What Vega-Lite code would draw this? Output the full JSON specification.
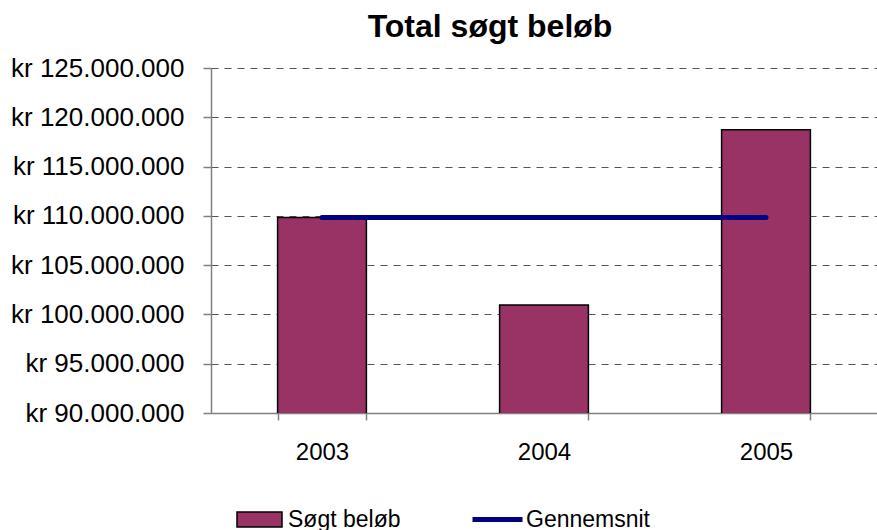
{
  "$schema": "https://vega.github.io/schema/vega-lite/v6.json",
  "autosize": "none",
  "width": 666,
  "height": 345,
  "padding": {"left": 211, "top": 68, "right": 0, "bottom": 117},
  "background": "white",
  "title": {
    "text": "Total søgt beløb",
    "font": "Liberation Sans",
    "fontSize": 32,
    "fontWeight": "bold",
    "color": "black",
    "anchor": "middle",
    "dx": -54,
    "offset": 11
  },
  "data": {
    "values": [
      {"year": "2003", "amount": 109830000, "avg": 109840000},
      {"year": "2004", "amount": 100960000, "avg": 109840000},
      {"year": "2005", "amount": 118730000, "avg": 109840000}
    ]
  },
  "encoding": {
    "x": {
      "field": "year",
      "type": "ordinal",
      "scale": {"paddingInner": 0.6, "paddingOuter": 0.3},
      "axis": {
        "title": null,
        "labelAngle": 0,
        "tickBand": "extent",
        "labelFont": "Liberation Sans",
        "labelFontSize": 24,
        "labelColor": "black",
        "labelPadding": 20,
        "tickSize": 7,
        "tickColor": "#808080",
        "domainColor": "#808080",
        "domainWidth": 1.5,
        "tickWidth": 1.5,
        "grid": false
      }
    }
  },
  "layer": [
    {
      "mark": {"type": "bar", "stroke": "black", "strokeWidth": 1.5, "clip": true},
      "encoding": {
        "y": {
          "field": "amount",
          "type": "quantitative",
          "scale": {"domain": [90000000, 125000000], "zero": false, "nice": false},
          "axis": {
            "title": null,
            "values": [90000000, 95000000, 100000000, 105000000, 110000000, 115000000, 120000000, 125000000],
            "format": "$,.0f",
            "labelFont": "Liberation Sans",
            "labelFontSize": 26,
            "labelColor": "black",
            "labelPadding": 19,
            "tickSize": 8,
            "tickColor": "#808080",
            "tickWidth": 1.5,
            "domainColor": "#808080",
            "domainWidth": 1.5,
            "grid": true,
            "gridColor": "#555555",
            "gridDash": [7, 6],
            "gridWidth": 1.2
          }
        },
        "fill": {
          "datum": "Søgt beløb",
          "type": "nominal",
          "scale": {"range": ["#993366"]},
          "legend": {
            "title": null,
            "orient": "none",
            "legendX": 25,
            "legendY": 428,
            "padding": 0,
            "symbolType": "M-1,-0.33H1V0.33H-1Z",
            "symbolSize": 2025,
            "symbolStrokeColor": "black",
            "symbolStrokeWidth": 1.5,
            "labelFont": "Liberation Sans",
            "labelFontSize": 23,
            "labelColor": "black",
            "labelOffset": 5
          }
        }
      }
    },
    {
      "mark": {"type": "line", "strokeWidth": 5, "strokeCap": "round"},
      "encoding": {
        "y": {"field": "avg", "type": "quantitative"},
        "stroke": {
          "datum": "Gennemsnit",
          "type": "nominal",
          "scale": {"range": ["#000080"]},
          "legend": {
            "title": null,
            "orient": "none",
            "legendX": 259,
            "legendY": 424,
            "padding": 0,
            "symbolType": "stroke",
            "symbolSize": 2500,
            "symbolStrokeWidth": 5,
            "labelFont": "Liberation Sans",
            "labelFontSize": 23,
            "labelColor": "black",
            "labelOffset": 1
          }
        }
      }
    }
  ],
  "config": {
    "view": {"stroke": null},
    "locale": {
      "number": {"decimal": ",", "thousands": ".", "grouping": [3], "currency": ["kr ", ""]}
    }
  }
}
